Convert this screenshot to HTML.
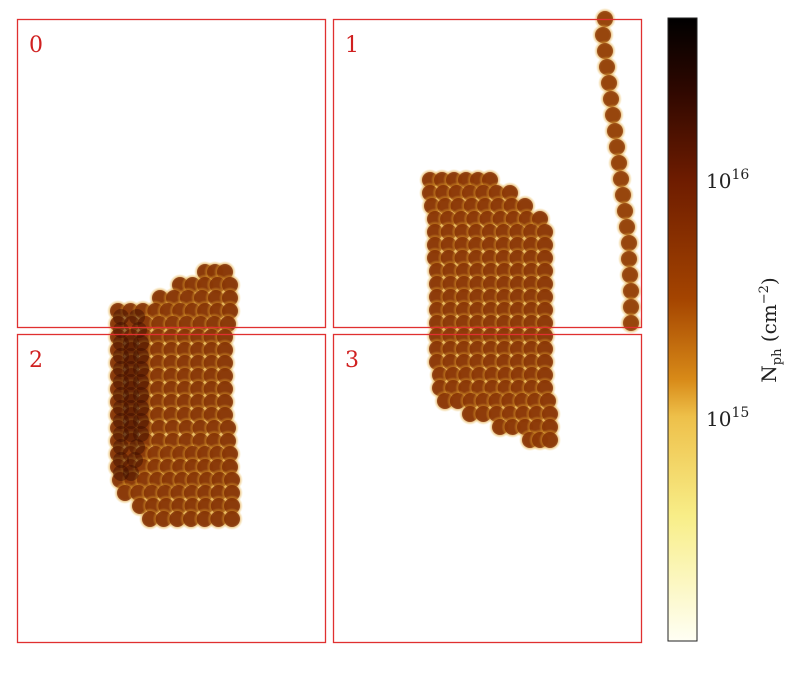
<!DOCTYPE html>
<html><head><meta charset="utf-8"><style>
html,body{margin:0;padding:0;background:#fff;}
svg{display:block;font-family:"DejaVu Serif","Liberation Serif",serif;}
</style></head><body>
<svg id="chart" width="800" height="684" viewBox="0 0 800 684">
<defs>
<linearGradient id="cbg" x1="0" y1="0" x2="0" y2="1">
<stop offset="0" stop-color="#000000"/><stop offset="0.12" stop-color="#300800"/>
<stop offset="0.26" stop-color="#6e1c00"/><stop offset="0.45" stop-color="#a44400"/>
<stop offset="0.58" stop-color="#d88a18"/><stop offset="0.64" stop-color="#eec04a"/>
<stop offset="0.8" stop-color="#f8ee88"/><stop offset="1" stop-color="#fffff4"/>
</linearGradient>
<radialGradient id="halo"><stop offset="0.55" stop-color="#c87010" stop-opacity="0.9"/><stop offset="1" stop-color="#f0c040" stop-opacity="0"/></radialGradient>
</defs>
<g id="blobs"></g>
<g id="panels"></g>
<rect x="668" y="18" width="29" height="623" fill="url(#cbg)" stroke="#222" stroke-width="1"/>
<g id="cbticks"></g>
<text transform="translate(776,330) rotate(-90)" text-anchor="middle" font-size="20" fill="#222">N<tspan font-size="13" dy="5">ph</tspan><tspan dy="-5"> (cm</tspan><tspan font-size="13" dy="-8">−2</tspan><tspan dy="8">)</tspan></text>
</svg>
<script>
// cluster A (lower-left), rows
const aRowY=[253,266,279,292,305,318,331,344,357,370,383,396,409,422,435,448,461,474,487,500];
const aRowX0=[188,163,143,101,101,101,101,101,101,101,101,101,101,101,101,101,103,108,123,133];
const aRowX1=[208,213,213,213,211,208,208,208,208,208,208,208,211,211,213,213,215,215,215,215];
const aCoreY=[298,311,324,337,350,363,376,389,402,415,428,441,454];
const aCoreX0=[104,104,104,104,104,104,104,104,104,104,104,104,104];
const aCoreX1=[120,122,124,124,124,124,124,124,124,124,120,118,114];
// cluster B (centre-right)
const bRowY=[161,174,187,200,213,226,239,252,265,278,291,304,317,330,343,356,369,382,395,408,421];
const bRowX0=[413,413,415,418,418,418,418,420,420,420,420,420,420,420,420,423,423,428,453,483,513];
const bRowX1=[473,493,508,523,528,528,528,528,528,528,528,528,528,528,528,528,528,531,533,533,533];
// chain (top-right)
const chainX=[588,586,588,590,592,594,596,598,600,602,604,606,608,610,612,612,613,614,614,614];
const chainY=[0,16,32,48,64,80,96,112,128,144,160,176,192,208,224,240,256,272,288,304];
const panelLabels=["0","1","2","3"];
const cbTickLabels=["16","15"];
const cbTickValues=[16,15];

const NS="http://www.w3.org/2000/svg";
const sx=v=>17+v, sy=v=>19+v;
const cbY=l=>180-(l-16)*238;
const blobs=document.getElementById('blobs');
function dot(x,y,col,op,halo){
  if(halo){
  const h=document.createElementNS(NS,'circle');
  h.setAttribute('cx',sx(x));h.setAttribute('cy',sy(y));h.setAttribute('r',11);h.setAttribute('fill','url(#halo)');
  
  
  blobs.appendChild(h);
  }
  const c=document.createElementNS(NS,'circle');
  c.setAttribute('cx',sx(x));c.setAttribute('cy',sy(y));c.setAttribute('r',8);c.setAttribute('fill',col);c.setAttribute('fill-opacity',op);
  
  
  blobs.appendChild(c);
}
function rows(Y,X0,X1,col,op,halo){
  Y.forEach((y,i)=>{for(let x=X0[i];x<=X1[i]+0.1;x+=Math.max(1,(X1[i]-X0[i])/Math.max(1,Math.round((X1[i]-X0[i])/13))))dot(x,y,col,op,halo);});
}
rows(aRowY,aRowX0,aRowX1,'#7a2a04',0.8,true);
rows(bRowY,bRowX0,bRowX1,'#7e2c04',0.8,true);
chainX.forEach((x,i)=>dot(x,chainY[i],'#8a3806',0.8,true));
rows(aCoreY,aCoreX0,aCoreX1,'#3a0a00',0.45,false);

const panels=document.getElementById('panels');
[[17,19],[333,19],[17,334],[333,334]].forEach((p,i)=>{
  const r=document.createElementNS(NS,'rect');
  r.setAttribute('x',p[0]+0.5);r.setAttribute('y',p[1]+0.5);r.setAttribute('width',308);r.setAttribute('height',308);
  r.setAttribute('fill','none');r.setAttribute('stroke','#e03030');r.setAttribute('stroke-width','1.3');
  
  
  panels.appendChild(r);
  const t=document.createElementNS(NS,'text');
  t.setAttribute('x',p[0]+12);t.setAttribute('y',p[1]+33);t.setAttribute('font-size','22');t.setAttribute('fill','#d02020');
  t.textContent=panelLabels[i];
  
  
  panels.appendChild(t);
});
const cbt=document.getElementById('cbticks');
cbTickValues.forEach((v,i)=>{
  const y=cbY(v);
  const t=document.createElementNS(NS,'text');
  t.setAttribute('x',706);t.setAttribute('y',y+8);t.setAttribute('font-size','20');t.setAttribute('fill','#222');
  t.innerHTML='10<tspan font-size="14" dy="-9">'+cbTickLabels[i]+'</tspan>';
  
  
  cbt.appendChild(t);
});
</script>
</body></html>
